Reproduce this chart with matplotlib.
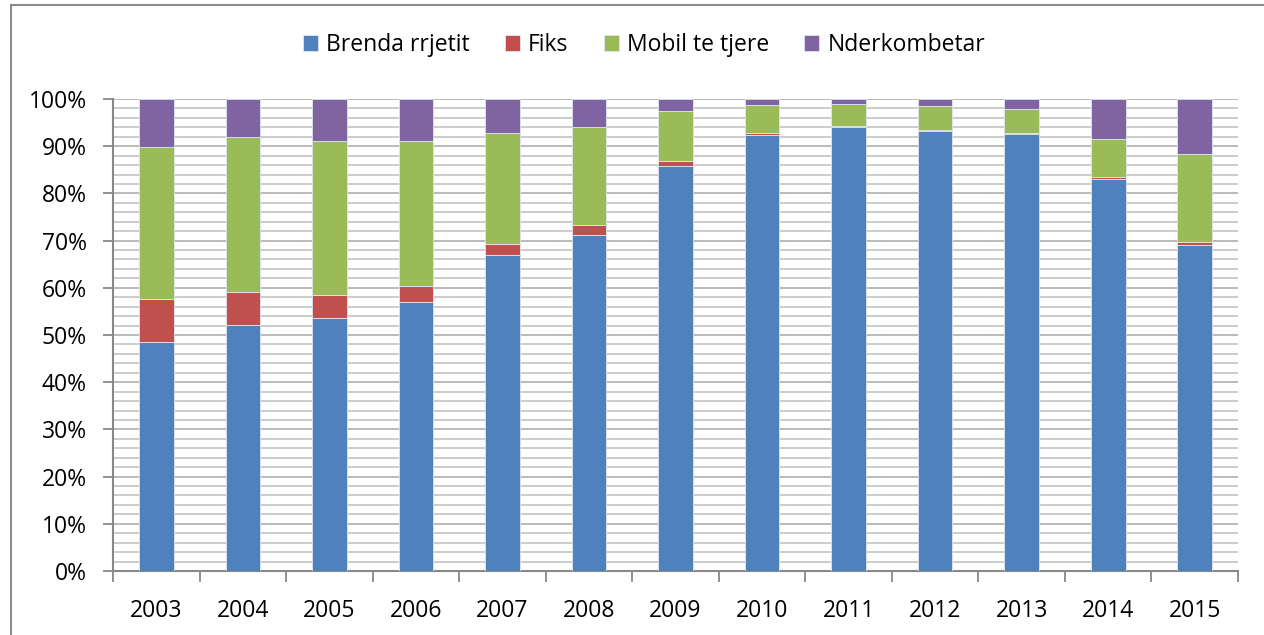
import matplotlib
matplotlib.use("Agg")
import matplotlib.pyplot as plt
from matplotlib.lines import Line2D
import numpy as np

years = ["2003", "2004", "2005", "2006", "2007", "2008", "2009",
         "2010", "2011", "2012", "2013", "2014", "2015"]
brenda = [48.5, 52.2, 53.5, 56.9, 66.9, 71.1, 85.9, 92.3, 94.0, 93.2, 92.6, 83.1, 69.0]
fiks = [9.1, 7.0, 5.0, 3.5, 2.4, 2.3, 0.9, 0.4, 0.3, 0.2, 0.3, 0.4, 0.7]
mobil = [32.2, 32.7, 32.7, 30.8, 23.6, 20.7, 10.7, 6.0, 4.6, 5.1, 5.0, 8.0, 18.6]
nder = [10.2, 8.1, 8.8, 8.8, 7.1, 5.9, 2.5, 1.3, 1.1, 1.5, 2.1, 8.5, 11.7]
series_names = ["Brenda rrjetit", "Fiks", "Mobil te tjere", "Nderkombetar"]
colors = ["#4F81BD", "#C0504D", "#9BBB59", "#8064A2"]

plt.rcParams['font.family'] = ['Open Sans', 'DejaVu Sans']
FS = 16.5

fig = plt.figure(figsize=(12.64, 6.35), dpi=100)
ax = fig.add_axes([113/1264, 1-571/635, (1238-113)/1264, (571-99)/635])

x = np.arange(len(years))
data = [brenda, fiks, mobil, nder]
bottom = np.zeros(len(years))
handles = []
for vals, name, c in zip(data, series_names, colors):
    v = np.array(vals, dtype=float)
    b = ax.bar(x, v, width=0.4, bottom=bottom, color=c, label=name, zorder=3,
               edgecolor='#dfe6f0', linewidth=0.6)
    bottom += v
    handles.append(b)

ax.set_xlim(-0.5, len(years) - 0.5)
ax.set_ylim(0, 100)

# gridlines every 2%
for yv in np.arange(2, 101, 2):
    col = '#b4b4b4' if yv % 10 == 0 else '#c8c8c8'
    ax.axhline(yv, color=col, linewidth=1.3, zorder=1)

ax.set_yticks(np.arange(0, 101, 10))
ax.set_yticklabels([f"{v}%" for v in range(0, 101, 10)], fontsize=FS)
ax.set_xticks(x)
ax.set_xticklabels(years, fontsize=FS)
ax.set_xticks(np.arange(-0.5, len(years), 1), minor=True)
ax.tick_params(axis='x', which='major', length=0, pad=20)
ax.tick_params(axis='x', which='minor', length=8, color='#888888', width=1.3)
ax.tick_params(axis='y', which='major', length=7, color='#888888', width=1.3, pad=12)

for s in ['top', 'right']:
    ax.spines[s].set_visible(False)
for s in ['left', 'bottom']:
    ax.spines[s].set_color('#888888')
    ax.spines[s].set_linewidth(1.5)

leg = fig.legend(handles=handles, labels=series_names, loc='center',
                 bbox_to_anchor=(644/1264, 1-45/635), ncol=4, frameon=False,
                 fontsize=FS, handlelength=0.65, handleheight=0.65,
                 handletextpad=0.35, columnspacing=1.55)

# outer chart frame
fig.add_artist(Line2D([11/1264, 11/1264], [0, 1-5/635], transform=fig.transFigure,
                      color='#8c8c8c', linewidth=1.5))
fig.add_artist(Line2D([11/1264, 1], [1-5/635, 1-5/635], transform=fig.transFigure,
                      color='#8c8c8c', linewidth=1.5))

fig.savefig("out.png", dpi=100, facecolor='white')
